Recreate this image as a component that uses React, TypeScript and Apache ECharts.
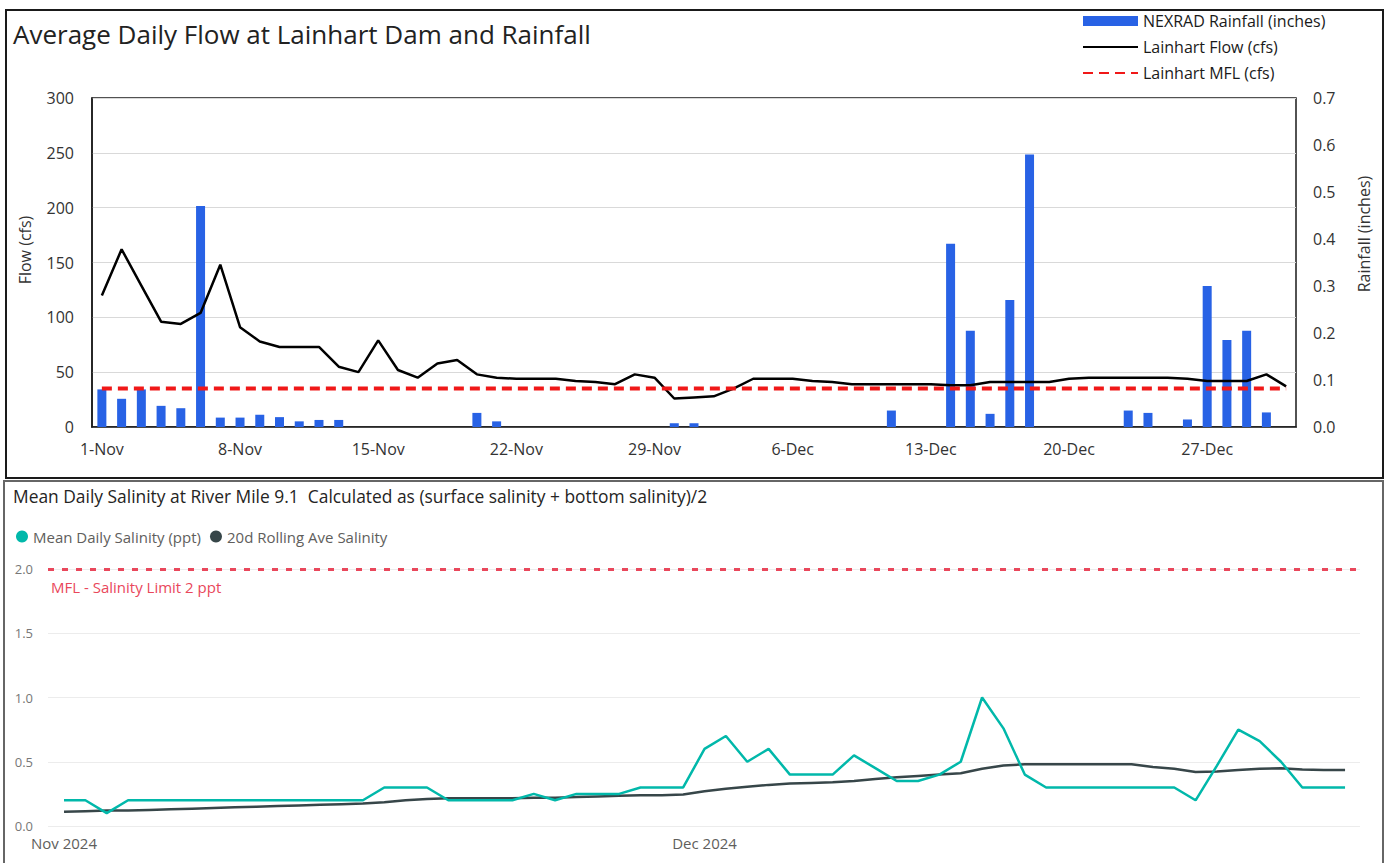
import React, { useEffect, useRef } from "react";
import * as echarts from "echarts";

// ---------- data ----------
const isoDates = [
  "2024-11-01","2024-11-02","2024-11-03","2024-11-04","2024-11-05","2024-11-06","2024-11-07","2024-11-08","2024-11-09","2024-11-10",
  "2024-11-11","2024-11-12","2024-11-13","2024-11-14","2024-11-15","2024-11-16","2024-11-17","2024-11-18","2024-11-19","2024-11-20",
  "2024-11-21","2024-11-22","2024-11-23","2024-11-24","2024-11-25","2024-11-26","2024-11-27","2024-11-28","2024-11-29","2024-11-30",
  "2024-12-01","2024-12-02","2024-12-03","2024-12-04","2024-12-05","2024-12-06","2024-12-07","2024-12-08","2024-12-09","2024-12-10",
  "2024-12-11","2024-12-12","2024-12-13","2024-12-14","2024-12-15","2024-12-16","2024-12-17","2024-12-18","2024-12-19","2024-12-20",
  "2024-12-21","2024-12-22","2024-12-23","2024-12-24","2024-12-25","2024-12-26","2024-12-27","2024-12-28","2024-12-29","2024-12-30",
  "2024-12-31",
];

const rainfallInches = [
  0.08, 0.06, 0.08, 0.045, 0.04, 0.47, 0.02, 0.02, 0.026, 0.021,
  0.012, 0.015, 0.015, 0, 0, 0, 0, 0, 0, 0.03,
  0.012, 0, 0, 0, 0, 0, 0, 0, 0, 0.008,
  0.008, 0, 0, 0, 0, 0, 0, 0, 0, 0,
  0.035, 0, 0, 0.39, 0.205, 0.028, 0.27, 0.58, 0, 0,
  0, 0, 0.035, 0.03, 0, 0.016, 0.3, 0.185, 0.205, 0.031,
  0,
];

const flowCfs = [
  120, 162, 129, 96, 94, 104, 148, 91, 78, 73,
  73, 73, 55, 50, 79, 52, 45, 58, 61, 48,
  45, 44, 44, 44, 42, 41, 39, 48, 45, 26,
  27, 28, 35, 44, 44, 44, 42, 41, 39, 39,
  39, 39, 39, 38, 38, 41, 41, 41, 41, 44,
  45, 45, 45, 45, 45, 44, 42, 42, 42, 48,
  37,
];

const MFL_CFS = 35;

const meanSalinity = [
  0.2, 0.2, 0.1, 0.2, 0.2, 0.2, 0.2, 0.2, 0.2, 0.2,
  0.2, 0.2, 0.2, 0.2, 0.2, 0.3, 0.3, 0.3, 0.2, 0.2,
  0.2, 0.2, 0.25, 0.2, 0.25, 0.25, 0.25, 0.3, 0.3, 0.3,
  0.6, 0.7, 0.5, 0.6, 0.4, 0.4, 0.4, 0.55, 0.45, 0.35,
  0.35, 0.4, 0.5, 1.0, 0.76, 0.4, 0.3, 0.3, 0.3, 0.3,
  0.3, 0.3, 0.3, 0.2, 0.47, 0.75, 0.66, 0.5, 0.3, 0.3,
  0.3,
];

const rollingSalinity = [
  0.11, 0.115, 0.12, 0.12, 0.125, 0.13, 0.135, 0.14, 0.145, 0.15,
  0.155, 0.16, 0.165, 0.17, 0.175, 0.185, 0.2, 0.21, 0.215, 0.215,
  0.215, 0.215, 0.22, 0.22, 0.225, 0.23, 0.235, 0.24, 0.24, 0.245,
  0.27, 0.29, 0.305, 0.32, 0.33, 0.335, 0.34, 0.35, 0.365, 0.38,
  0.39, 0.4, 0.41, 0.445, 0.47, 0.48, 0.48, 0.48, 0.48, 0.48,
  0.48, 0.46, 0.445, 0.42, 0.425, 0.435, 0.445, 0.45, 0.44, 0.435,
  0.435,
];

const SALINITY_MFL = 2;
const flowTicks = { min: 0, max: 300, interval: 50 };
const rainTicks = { min: 0, max: 0.7, interval: 0.1 };
const salTicks = { min: 0, max: 2, interval: 0.5 };
const salinityMonthTicks = ["2024-11-01", "2024-12-01"];
const monthLabels = ["Jan","Feb","Mar","Apr","May","Jun","Jul","Aug","Sep","Oct","Nov","Dec"];

const FONT = "'Open Sans', 'Noto Sans', sans-serif";
const DAY = 86400000;

function parseIso(s: string) {
  const [y, m, d] = s.split("-").map(Number);
  return Date.UTC(y, m - 1, d);
}

export default function App() {
  const ref = useRef<HTMLDivElement>(null);

  useEffect(() => {
    if (!ref.current) return;
    const chart = echarts.init(ref.current, undefined, { renderer: "svg" });
    const first = parseIso(isoDates[0]);
    const last = parseIso(isoDates[isoDates.length - 1]);

    const option: any = {
      animation: false,
      textStyle: { fontFamily: FONT },
      grid: [
        { left: 92, top: 98, width: 1204, height: 329, show: true, borderColor: "#1a1a1a", borderWidth: 1.5 },
        { left: 48, top: 569, width: 1312, height: 257 },
      ],
      legend: [
        {
          orient: "vertical", left: 1077, top: 8, itemWidth: 55, itemHeight: 10, itemGap: 10,
          textStyle: { fontSize: 16, color: "#1a1a1a", fontFamily: FONT, lineHeight: 16 },
          data: [
            { name: "NEXRAD Rainfall (inches)", icon: "rect" },
            { name: "Lainhart Flow (cfs)", itemStyle: { opacity: 0 } },
            { name: "Lainhart MFL (cfs)", itemStyle: { opacity: 0 } },
          ],
        },
        {
          orient: "horizontal", left: 11, top: 524, itemWidth: 12, itemHeight: 12, itemGap: 9, icon: "circle",
          textStyle: { fontSize: 15, color: "#605E5C", fontFamily: FONT },
          data: ["Mean Daily Salinity (ppt)", "20d Rolling Ave Salinity"],
        },
      ],
      xAxis: [
        {
          type: "category", gridIndex: 0, data: isoDates, boundaryGap: true,
          axisLine: { lineStyle: { color: "#1a1a1a", width: 1.5 } },
          axisTick: { interval: 6, length: 6, alignWithLabel: false, lineStyle: { color: "#1a1a1a", width: 1.5 } },
          axisLabel: {
            interval: 6, fontSize: 16, color: "#333", margin: 14,
            formatter: (v: string) => {
              const [, m, d] = v.split("-").map(Number);
              return d + "-" + monthLabels[m - 1];
            },
          },
          splitLine: { show: false },
        },
        {
          type: "value", gridIndex: 1, min: first - 0.75 * DAY, max: last + 0.7 * DAY,
          axisLine: { show: false }, axisTick: { show: false }, splitLine: { show: false },
          axisLabel: {
            customValues: salinityMonthTicks.map(parseIso), fontSize: 15, color: "#605E5C", margin: 9,
            formatter: (v: number) => {
              const d = new Date(v);
              return monthLabels[d.getUTCMonth()] + " " + d.getUTCFullYear();
            },
          },
        },
      ],
      yAxis: [
        {
          type: "value", gridIndex: 0, ...flowTicks,
          axisLine: { show: true, lineStyle: { color: "#1a1a1a", width: 1.5 } },
          axisTick: { show: false },
          splitLine: { lineStyle: { color: "#d9d9d9", width: 1 } },
          axisLabel: { fontSize: 16, color: "#333", margin: 18 },
        },
        {
          type: "value", gridIndex: 0, position: "right", ...rainTicks,
          axisLine: { show: false }, axisTick: { show: false }, splitLine: { show: false },
          axisLabel: { fontSize: 16, color: "#333", margin: 17, formatter: (v: number) => v.toFixed(1) },
        },
        {
          type: "value", gridIndex: 1, ...salTicks,
          axisLine: { show: false }, axisTick: { show: false },
          splitLine: { lineStyle: { color: "#ececec", width: 1 } },
          axisLabel: { fontSize: 13, color: "#777", margin: 15, formatter: (v: number) => v.toFixed(1) },
        },
      ],
      series: [
        {
          name: "NEXRAD Rainfall (inches)", type: "bar", xAxisIndex: 0, yAxisIndex: 1,
          data: rainfallInches, barWidth: 9, itemStyle: { color: "#2862E5" }, z: 2,
        },
        {
          name: "Lainhart Flow (cfs)", type: "line", xAxisIndex: 0, yAxisIndex: 0,
          data: flowCfs, symbol: "none", color: "#000", lineStyle: { color: "#000", width: 2.5 }, z: 3,
        },
        {
          name: "Lainhart MFL (cfs)", type: "line", xAxisIndex: 0, yAxisIndex: 0,
          data: isoDates.map(() => MFL_CFS), symbol: "none", color: "#F01818",
          lineStyle: { color: "#F01818", width: 4, type: [10, 6] }, z: 4,
        },
        {
          name: "Mean Daily Salinity (ppt)", type: "line", xAxisIndex: 1, yAxisIndex: 2,
          data: isoDates.map((d, i) => [parseIso(d), meanSalinity[i]]),
          symbol: "none", color: "#01B8AA", lineStyle: { color: "#01B8AA", width: 2.5 }, z: 3,
          markLine: {
            silent: true, symbol: "none", label: { show: false },
            lineStyle: { color: "#E9475B", width: 3, type: [6, 8] },
            data: [{ yAxis: SALINITY_MFL }],
          },
        },
        {
          name: "20d Rolling Ave Salinity", type: "line", xAxisIndex: 1, yAxisIndex: 2,
          data: isoDates.map((d, i) => [parseIso(d), rollingSalinity[i]]),
          symbol: "none", color: "#374649", lineStyle: { color: "#374649", width: 2.5 }, z: 2,
        },
      ],
      graphic: [
        { type: "rect", z: -1, shape: { x: 6, y: 10, width: 1377, height: 468 }, style: { fill: "none", stroke: "#1a1a1a", lineWidth: 2 } },
        { type: "rect", z: -1, shape: { x: 4, y: 481, width: 1379, height: 386 }, style: { fill: "none", stroke: "#666", lineWidth: 2 } },
        {
          type: "text", x: 13, y: 34,
          style: { text: "Average Daily Flow at Lainhart Dam and Rainfall", fontSize: 26, fontFamily: FONT, fill: "#222", verticalAlign: "middle", textVerticalAlign: "middle" },
        },
        {
          type: "text", x: 25, y: 250, rotation: Math.PI / 2,
          style: { text: "Flow (cfs)", fontSize: 16, fontFamily: FONT, fill: "#333", align: "center", textAlign: "center", verticalAlign: "middle", textVerticalAlign: "middle" },
        },
        {
          type: "text", x: 1364, y: 234, rotation: Math.PI / 2,
          style: { text: "Rainfall (inches)", fontSize: 16, fontFamily: FONT, fill: "#333", align: "center", textAlign: "center", verticalAlign: "middle", textVerticalAlign: "middle" },
        },
        {
          type: "text", x: 13, y: 496,
          style: { text: "Mean Daily Salinity at River Mile 9.1  Calculated as (surface salinity + bottom salinity)/2", fontSize: 17.4, fontFamily: FONT, fill: "#252423", verticalAlign: "middle", textVerticalAlign: "middle" },
        },
        {
          type: "text", x: 51, y: 587,
          style: { text: "MFL - Salinity Limit 2 ppt", fontSize: 15, fontFamily: FONT, fill: "#E9475B", verticalAlign: "middle", textVerticalAlign: "middle" },
        },
      ],
    };

    chart.setOption(option);
    return () => chart.dispose();
  }, []);

  return (
    <div
      ref={ref}
      style={{ position: "fixed", left: 0, top: 0, width: 1389, height: 863, background: "#fff" }}
    />
  );
}
